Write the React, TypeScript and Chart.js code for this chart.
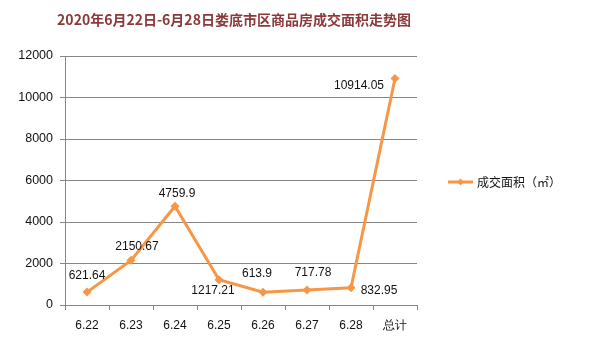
import React, { useEffect, useRef } from "react";
import { Chart, registerables } from "chart.js";

Chart.register(...registerables);

const TITLE = "2020年6月22日-6月28日娄底市区商品房成交面积走势图";
const CATEGORIES = ["6.22", "6.23", "6.24", "6.25", "6.26", "6.27", "6.28", "总计"];
const SERIES_NAME = "成交面积（㎡）";
const AREA_VALUES = [621.64, 2150.67, 4759.9, 1217.21, 613.9, 717.78, 832.95, 10914.05];
const VALUE_LABELS = ["621.64", "2150.67", "4759.9", "1217.21", "613.9", "717.78", "832.95", "10914.05"];
const Y_MIN = 0;
const Y_MAX = 12000;
const Y_STEP = 2000;

// label offsets (style only) relative to each point
const LABEL_DX = [0, 6, 2, -6, -6, 6, 28, -36];
const LABEL_DY = [-16, -14, -13, 11, -19, -17, 3, 7];

const LINE_COLOR = "#F79646";
const GRID_COLOR = "#868686";
const TEXT_COLOR = "#111111";
const FONT = "'Liberation Sans', Arial, sans-serif";

const W = 590;
const H = 354;
const PLOT_LEFT = 65;
const PLOT_RIGHT = 417;
const PLOT_TOP = 56;
const PLOT_BOTTOM = 305;

const decorPlugin = {
  id: "decor",
  afterDatasetsDraw(chart: any) {
    const ctx = chart.ctx;
    const meta = chart.getDatasetMeta(0);
    ctx.save();
    // data labels
    ctx.font = `12px ${FONT}`;
    ctx.fillStyle = TEXT_COLOR;
    ctx.textAlign = "center";
    ctx.textBaseline = "middle";
    meta.data.forEach((pt: any, i: number) => {
      ctx.fillText(VALUE_LABELS[i], pt.x + LABEL_DX[i], pt.y + LABEL_DY[i]);
    });
    // title
    ctx.font = `bold 14px 'Noto Sans CJK SC', sans-serif`;
    ctx.fillStyle = "#8B3A3A";
    ctx.textAlign = "center";
    ctx.fillText(TITLE, 234, 20);
    // legend
    const ly = 182;
    ctx.strokeStyle = LINE_COLOR;
    ctx.lineWidth = 3;
    ctx.beginPath();
    ctx.moveTo(448, ly);
    ctx.lineTo(473, ly);
    ctx.stroke();
    ctx.fillStyle = LINE_COLOR;
    ctx.beginPath();
    ctx.moveTo(460.5, ly - 3.5);
    ctx.lineTo(464, ly);
    ctx.lineTo(460.5, ly + 3.5);
    ctx.lineTo(457, ly);
    ctx.closePath();
    ctx.fill();
    ctx.font = `12px 'Noto Sans CJK SC', sans-serif`;
    ctx.fillStyle = TEXT_COLOR;
    ctx.textAlign = "left";
    ctx.fillText(SERIES_NAME, 477, ly);
    ctx.restore();
  },
};

export default function App() {
  const ref = useRef<HTMLCanvasElement>(null);
  useEffect(() => {
    if (!ref.current) return;
    const chart = new Chart(ref.current, {
      type: "line",
      data: {
        labels: CATEGORIES,
        datasets: [
          {
            label: SERIES_NAME,
            data: AREA_VALUES,
            borderColor: LINE_COLOR,
            backgroundColor: LINE_COLOR,
            borderWidth: 3,
            pointStyle: "rectRot",
            pointRadius: 4.5,
            pointBorderWidth: 0,
            tension: 0,
          },
        ],
      },
      options: {
        responsive: false,
        animation: false,
        devicePixelRatio: 1,
        layout: {
          padding: { left: 0, top: PLOT_TOP, right: W - PLOT_RIGHT, bottom: 0 },
        },
        plugins: {
          legend: { display: false },
          title: { display: false },
          tooltip: { enabled: false },
        },
        scales: {
          x: {
            offset: true,
            grid: {
              offset: true,
              drawOnChartArea: false,
              drawTicks: true,
              tickLength: 5,
              color: GRID_COLOR,
            },
            border: { display: true, color: GRID_COLOR },
            ticks: {
              color: TEXT_COLOR,
              font: { family: FONT, size: 12 },
              padding: 8,
              maxRotation: 0,
              autoSkip: false,
            },
            afterFit: (s: any) => {
              s.height = H - PLOT_BOTTOM;
            },
          },
          y: {
            min: Y_MIN,
            max: Y_MAX,
            grid: {
              color: GRID_COLOR,
              drawTicks: true,
              tickLength: 5,
            },
            border: { display: true, color: GRID_COLOR },
            ticks: {
              stepSize: Y_STEP,
              color: TEXT_COLOR,
              font: { family: FONT, size: 12.5 },
              padding: 7,
              callback: (v: any) => String(v),
            },
            afterFit: (s: any) => {
              s.width = PLOT_LEFT;
            },
          },
        },
      },
      plugins: [decorPlugin],
    });
    return () => chart.destroy();
  }, []);
  return (
    <div style={{ position: "fixed", left: 0, top: 0, width: W, height: H, background: "#fff" }}>
      <canvas ref={ref} width={W} height={H} style={{ width: W, height: H, display: "block" }} />
    </div>
  );
}
